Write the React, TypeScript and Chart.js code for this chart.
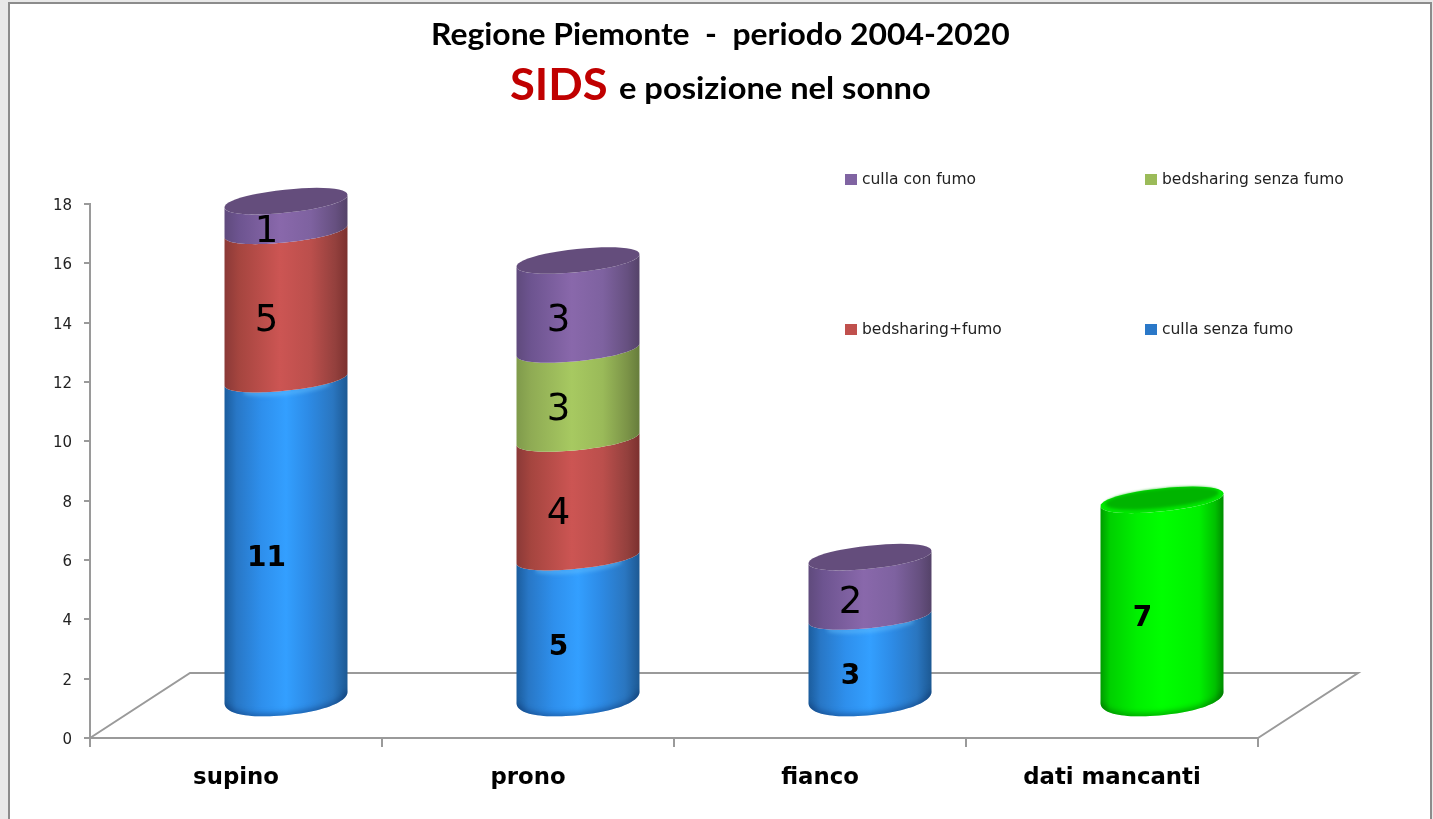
import React, { useEffect, useRef } from "react";
import { Chart, registerables } from "chart.js";

Chart.register(...registerables);

const categories = ["supino", "prono", "fianco", "dati mancanti"];
const cullaSenzaFumo = [11, 5, 3, 7];
const bedsharingFumo = [5, 4, 0, 0];
const bedsharingSenzaFumo = [0, 3, 0, 0];
const cullaConFumo = [1, 3, 2, 0];
const yTicks = [0, 2, 4, 6, 8, 10, 12, 14, 16, 18];
const legendRows = [
  ["culla con fumo", "bedsharing senza fumo"],
  ["bedsharing+fumo", "culla senza fumo"],
];

const BLUE = "#2f8fe8";
const RED = "#c0504d";
const OLIVE = "#9bbb59";
const PURPLE = "#8064a2";
const LIME = "#00ff00";

const shades: Record<string, { stops: [number, string][]; cap: string; rim?: string }> = {
  [BLUE]: {
    stops: [[0, "#1b5c9c"], [0.1, "#2877c6"], [0.3, "#2e8fec"], [0.5, "#339fff"], [0.68, "#2d8be6"], [0.88, "#2a76c0"], [1, "#1c5892"]],
    cap: "#2a78c8",
    rim: "rgba(10,50,110,0.6)",
  },
  [RED]: {
    stops: [[0, "#8a3937"], [0.12, "#a5453f"], [0.45, "#cc5553"], [0.7, "#bb4f4c"], [0.9, "#93403d"], [1, "#7b302e"]],
    cap: "#8f3b39",
  },
  [OLIVE]: {
    stops: [[0, "#7f9a4b"], [0.12, "#8fab54"], [0.45, "#a7c961"], [0.7, "#9aba59"], [0.9, "#7b9347"], [1, "#667c3b"]],
    cap: "#7b9347",
  },
  [PURPLE]: {
    stops: [[0, "#5f4a7c"], [0.12, "#6d5490"], [0.45, "#8968ab"], [0.7, "#7e62a0"], [0.9, "#665080"], [1, "#544268"]],
    cap: "#644d7c",
  },
  [LIME]: {
    stops: [[0, "#009a00"], [0.08, "#00d000"], [0.3, "#00f000"], [0.5, "#00ff00"], [0.8, "#00f000"], [0.93, "#00c000"], [1, "#008a00"]],
    cap: "#00e800",
    rim: "rgba(0,90,0,0.6)",
  },
};

const ROT = (-6 * Math.PI) / 180;
const MINOR = 11.5;
const DEPTH_X = 100;
const DEPTH_Y = 65;
const AXIS = "#9a9a9a";
const ROUND = 2.1;
const ROUND_BASE = 2.2;
const BASE_MINOR = 18;
const BASE_LIFT = 7.5;
const STEPS = 48;

// Point on a rotated super-ellipse (n = 2 is a plain ellipse).
function pt(cx: number, cy: number, a: number, b: number, t: number, n: number) {
  const c = Math.cos(t);
  const s = Math.sin(t);
  const u = a * Math.sign(c) * Math.pow(Math.abs(c), 2 / n);
  const v = b * Math.sign(s) * Math.pow(Math.abs(s), 2 / n);
  return {
    x: cx + u * Math.cos(ROT) - v * Math.sin(ROT),
    y: cy + u * Math.sin(ROT) + v * Math.cos(ROT),
  };
}

function traceArc(ctx: CanvasRenderingContext2D, cx: number, cy: number, a: number, b: number, from: number, to: number, n: number) {
  for (let i = 0; i <= STEPS; i++) {
    const p = pt(cx, cy, a, b, from + ((to - from) * i) / STEPS, n);
    ctx.lineTo(p.x, p.y);
  }
}

function cylinder(ctx: CanvasRenderingContext2D, cx: number, yb: number, yt: number, a: number, color: string, isBase: boolean, isTop: boolean) {
  const shade = shades[color];
  const nb = isBase ? ROUND_BASE : ROUND;
  const bb = isBase ? BASE_MINOR : MINOR;
  const cb = isBase ? yb - BASE_LIFT : yb;
  const build = () => {
    ctx.beginPath();
    const start = pt(cx, yt, a, MINOR, 0, ROUND);
    ctx.moveTo(start.x, start.y);
    traceArc(ctx, cx, cb, a, bb, 0, Math.PI, nb);
    traceArc(ctx, cx, yt, a, MINOR, Math.PI, 0, ROUND);
    ctx.closePath();
  };
  const g = ctx.createLinearGradient(cx - a, 0, cx + a, 0);
  shade.stops.forEach(([o, c]) => g.addColorStop(o, c));
  ctx.fillStyle = g;
  build();
  ctx.fill();

  if (shade.rim) {
    ctx.save();
    build();
    ctx.clip();
    ctx.filter = "blur(3px)";
    ctx.strokeStyle = shade.rim;
    ctx.lineWidth = 6;
    ctx.beginPath();
    const p0 = pt(cx, cb + 1, a, bb, 0, nb);
    ctx.moveTo(p0.x, p0.y);
    traceArc(ctx, cx, cb + 1, a, bb, 0, Math.PI, nb);
    ctx.stroke();
    ctx.restore();
  }
  if (color === BLUE && !isTop) {
    ctx.save();
    build();
    ctx.clip();
    ctx.filter = "blur(2px)";
    ctx.strokeStyle = "rgba(110,200,255,0.7)";
    ctx.lineWidth = 3;
    ctx.beginPath();
    const h0 = pt(cx, yt + 2, a - 10, MINOR, 0.6, 2);
    ctx.moveTo(h0.x, h0.y);
    traceArc(ctx, cx, yt + 2, a - 10, MINOR, 0.6, Math.PI - 0.6, 2);
    ctx.stroke();
    ctx.restore();
  }

  if (isTop) {
    ctx.fillStyle = shade.cap;
    ctx.beginPath();
    const c0 = pt(cx, yt, a, MINOR, 0, ROUND);
    ctx.moveTo(c0.x, c0.y);
    traceArc(ctx, cx, yt, a, MINOR, 0, Math.PI * 2, ROUND);
    ctx.closePath();
    ctx.fill();
    if (color === LIME) {
      ctx.save();
      ctx.filter = "blur(1.5px)";
      ctx.fillStyle = "#00b400";
      ctx.beginPath();
      const i0 = pt(cx, yt - 1.5, a - 5, MINOR - 2, 0, ROUND);
      ctx.moveTo(i0.x, i0.y);
      traceArc(ctx, cx, yt - 1.5, a - 5, MINOR - 2, 0, Math.PI * 2, ROUND);
      ctx.closePath();
      ctx.fill();
      ctx.restore();
    }
  }
}

function stretched(ctx: CanvasRenderingContext2D, text: string, x: number, y: number, sx: number) {
  ctx.save();
  ctx.translate(x, y);
  ctx.scale(sx, 1);
  ctx.fillText(text, 0, 0);
  ctx.restore();
}

const frameAndText = {
  id: "frameAndText",
  beforeDraw(chart: any) {
    const { ctx, width, height } = chart;
    ctx.save();
    ctx.fillStyle = "#e9e9e9";
    ctx.fillRect(0, 0, width, height);
    ctx.fillStyle = "#ffffff";
    ctx.fillRect(9, 3, width - 11, height);
    ctx.strokeStyle = "#8c8c8c";
    ctx.lineWidth = 2;
    ctx.strokeRect(9, 3, width - 11, height + 10);
    ctx.restore();
  },
  afterDraw(chart: any) {
    const { ctx } = chart;
    ctx.save();
    ctx.textBaseline = "alphabetic";
    ctx.textAlign = "left";
    ctx.fillStyle = "#000000";
    ctx.font = "bold 29.5px Lato";
    stretched(ctx, "Regione Piemonte  -  periodo 2004-2020", 431, 45, 1.08);
    ctx.fillStyle = "#c00000";
    ctx.font = "bold 44px Lato";
    stretched(ctx, "SIDS", 510, 100, 1.03);
    ctx.fillStyle = "#000000";
    ctx.font = "bold 29.5px Lato";
    stretched(ctx, "e posizione nel sonno", 619, 99, 1.107);

    const colorOf: Record<string, string> = {};
    chart.data.datasets.forEach((d: any) => (colorOf[d.label] = d.swatch));
    ctx.font = '15.5px "DejaVu Sans"';
    ctx.textBaseline = "middle";
    const xs = [845, 1145];
    const ys = [179, 329];
    legendRows.forEach((row, r) =>
      row.forEach((label, c) => {
        ctx.fillStyle = colorOf[label];
        ctx.fillRect(xs[c], ys[r] - 5, 12, 11);
        ctx.fillStyle = "#222222";
        ctx.fillText(label, xs[c] + 17, ys[r] + 1);
      })
    );
    ctx.restore();
  },
  beforeDatasetsDraw(chart: any) {
    const { ctx, chartArea } = chart;
    const { left, right, bottom } = chartArea;
    ctx.save();
    ctx.strokeStyle = AXIS;
    ctx.lineWidth = 2;
    ctx.beginPath();
    ctx.moveTo(left, bottom);
    ctx.lineTo(left + DEPTH_X, bottom - DEPTH_Y);
    ctx.lineTo(right + DEPTH_X, bottom - DEPTH_Y);
    ctx.lineTo(right, bottom);
    ctx.stroke();

    const n = chart.data.labels.length;
    const labelsToDraw: any[] = [];
    for (let i = 0; i < n; i++) {
      const visible = chart.data.datasets
        .map((d: any, di: number) => ({ d, el: chart.getDatasetMeta(di).data[i], v: d.data[i] }))
        .filter((s: any) => s.v > 0);
      visible.forEach((s: any, idx: number) => {
        const a = s.el.width / 2;
        const cx = s.el.x + 50;
        const yb = s.el.base - DEPTH_Y / 2;
        const color = Array.isArray(s.d.backgroundColor) ? s.d.backgroundColor[i] : s.d.backgroundColor;
        const yt = s.el.y - DEPTH_Y / 2 + (color === LIME ? 2 : 0);
        cylinder(ctx, cx, yb, yt, a, color, idx === 0, idx === visible.length - 1);
        labelsToDraw.push({ v: s.v, x: cx - 19.5, y: (yb + yt) / 2 + 16.5, bold: color === BLUE || color === LIME });
      });
    }
    ctx.fillStyle = "#000000";
    ctx.textAlign = "center";
    ctx.textBaseline = "middle";
    labelsToDraw.forEach((l) => {
      ctx.font = l.bold ? 'bold 28px "DejaVu Sans"' : '37px "DejaVu Sans"';
      ctx.fillText(String(l.v), l.x, l.y);
    });
    ctx.restore();
    return false;
  },
};

export default function App() {
  const ref = useRef<HTMLCanvasElement | null>(null);
  useEffect(() => {
    document.body.style.margin = "0";
    const common = { categoryPercentage: 1, barPercentage: 0.4235, stack: "s" };
    const chart = new Chart(ref.current as HTMLCanvasElement, {
      type: "bar",
      data: {
        labels: categories,
        datasets: [
          { label: "culla senza fumo", data: cullaSenzaFumo, backgroundColor: [BLUE, BLUE, BLUE, LIME], swatch: "#2a78c8", ...common },
          { label: "bedsharing+fumo", data: bedsharingFumo, backgroundColor: RED, swatch: RED, ...common },
          { label: "bedsharing senza fumo", data: bedsharingSenzaFumo, backgroundColor: OLIVE, swatch: OLIVE, ...common },
          { label: "culla con fumo", data: cullaConFumo, backgroundColor: PURPLE, swatch: PURPLE, ...common },
        ] as any,
      },
      options: {
        animation: false,
        responsive: false,
        layout: { padding: { top: 204, right: 175, left: 0, bottom: 0 } },
        plugins: { legend: { display: false }, title: { display: false }, tooltip: { enabled: false } },
        scales: {
          x: {
            stacked: true,
            afterFit: (s: any) => { s.height = 81; },
            grid: { drawOnChartArea: false, offset: true, color: AXIS, tickLength: 9, lineWidth: 2 },
            border: { color: AXIS, width: 2 },
            ticks: { color: "#000000", padding: 17, maxRotation: 0, font: { family: "DejaVu Sans", size: 22.8, weight: "bold" } },
          },
          y: {
            stacked: true,
            min: yTicks[0],
            max: yTicks[yTicks.length - 1],
            afterFit: (s: any) => { s.width = 90; },
            afterBuildTicks: (s: any) => { s.ticks = yTicks.map((value) => ({ value })); },
            grid: { drawOnChartArea: false, color: AXIS, tickLength: 6, lineWidth: 2 },
            border: { color: AXIS, width: 2 },
            ticks: { color: "#222222", padding: 12, labelOffset: 2, font: { family: "DejaVu Sans", size: 15 } },
          },
        },
      } as any,
      plugins: [frameAndText as any],
    });
    return () => chart.destroy();
  }, []);
  return <canvas ref={ref} width={1433} height={819} style={{ display: "block" }} />;
}
